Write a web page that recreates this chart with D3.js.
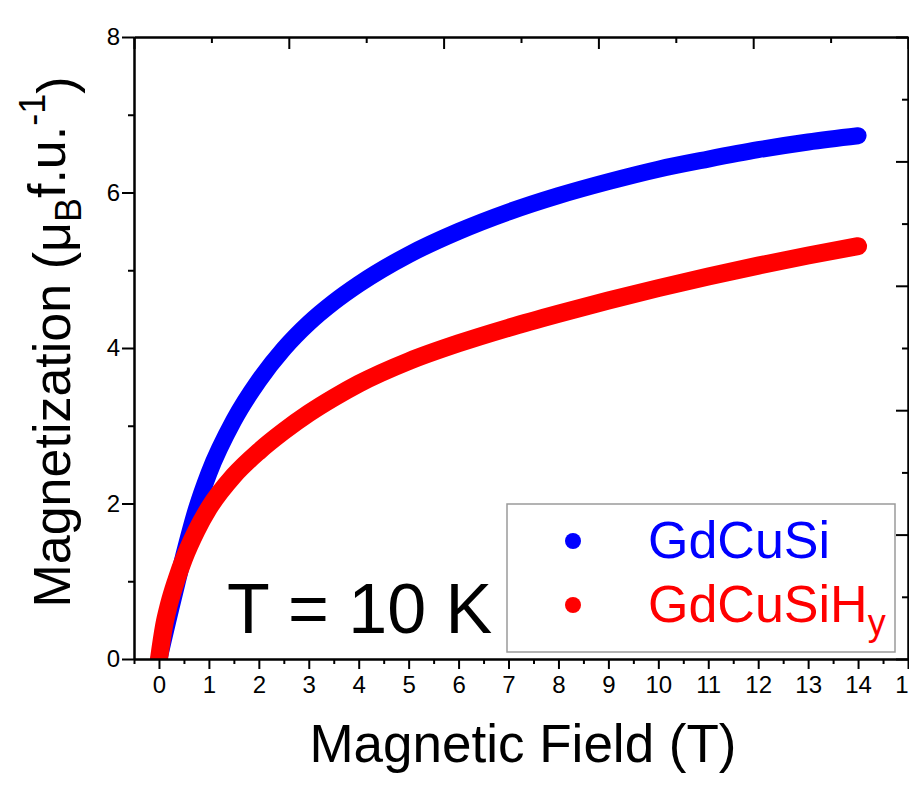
<!DOCTYPE html>
<html>
<head>
<meta charset="utf-8">
<script src="https://cdn.jsdelivr.net/npm/d3@7"></script>
<style>
  body { margin: 0; background: #fff; }
  text { font-family: "Liberation Sans", Arial, sans-serif; }
</style>
</head>
<body>
<div id="chart"></div>
<script>
// Data: field (T) and magnetization (muB/f.u.)
const field = [0, 0.1, 0.2, 0.35, 0.5, 0.75, 1, 1.5, 2, 2.5, 3, 3.5, 4, 5, 6, 7, 8, 9, 10, 11, 12, 13, 14];
const gdcusi = [0, 0.28, 0.55, 0.95, 1.34, 1.93, 2.39, 3.07, 3.58, 3.99, 4.32, 4.59, 4.82, 5.2, 5.5, 5.75, 5.96, 6.14, 6.3, 6.43, 6.55, 6.65, 6.73];
const gdcusih = [0, 0.42, 0.7, 1.02, 1.29, 1.65, 1.94, 2.36, 2.67, 2.93, 3.16, 3.36, 3.54, 3.83, 4.06, 4.26, 4.44, 4.61, 4.77, 4.92, 5.06, 5.19, 5.31];

const xMajor = d3.range(0, 16, 1);
const xMinor = d3.range(-0.5, 15, 1);
const yMajor = [0, 2, 4, 6, 8];
const yMinor = [1, 3, 5, 7];
// the top and right frame axes carry their own, unlabelled, 0..10 scale
const frameMajor = [0, 2, 4, 6, 8, 10];
const frameMinor = [1, 3, 5, 7, 9];

const WIDTH = 909;
const HEIGHT = 786;
const margin = { top: 37, right: 1, bottom: 127, left: 134 };
const width = WIDTH - margin.left - margin.right;
const height = HEIGHT - margin.top - margin.bottom;

const svg = d3
  .select("#chart")
  .append("svg")
  .attr("width", WIDTH)
  .attr("height", HEIGHT)
  .append("g")
  .attr("transform", `translate(${margin.left}, ${margin.top})`);

const x = d3.scaleLinear().domain([-0.5, 15]).range([0, width]);
const y = d3.scaleLinear().domain([0, 8]).range([height, 0]);
const xTop = d3.scaleLinear().domain([0, 10]).range([0, width]);
const yRight = d3.scaleLinear().domain([0, 10]).range([height, 0]);

svg
  .append("clipPath")
  .attr("id", "clip")
  .append("rect")
  .attr("width", width)
  .attr("height", height);

// curves (dense scatter drawn as a thick round line)
const series = [
  { values: gdcusi, color: "#0000ff", w: 17 },
  { values: gdcusih, color: "#ff0000", w: 18 }
];

const line = d3
  .line()
  .x(d => x(d[0]))
  .y(d => y(d[1]))
  .curve(d3.curveMonotoneX);

svg
  .append("g")
  .attr("clip-path", "url(#clip)")
  .selectAll("path")
  .data(series)
  .join("path")
  .attr("d", s => line(field.map((f, i) => [f, s.values[i]])))
  .attr("fill", "none")
  .attr("stroke", s => s.color)
  .attr("stroke-width", s => s.w)
  .attr("stroke-linecap", "round")
  .attr("stroke-linejoin", "round");

// axes
function style(g) {
  g.select(".domain").attr("stroke", "#000").attr("stroke-width", 2);
  g.selectAll(".tick line").attr("stroke", "#000").attr("stroke-width", 2);
  g.selectAll(".tick text").attr("fill", "#000").style("font-size", "24px");
}

svg
  .append("g")
  .attr("transform", `translate(0, ${height})`)
  .call(d3.axisBottom(x).tickValues(xMinor).tickSize(5).tickFormat("").tickSizeOuter(0))
  .call(style);

svg
  .append("g")
  .attr("transform", `translate(0, ${height})`)
  .call(d3.axisBottom(x).tickValues(xMajor).tickSize(10).tickPadding(7).tickSizeOuter(0))
  .call(style);

svg
  .append("g")
  .call(d3.axisLeft(y).tickValues(yMinor).tickSize(6).tickFormat("").tickSizeOuter(0))
  .call(style);

svg
  .append("g")
  .call(d3.axisLeft(y).tickValues(yMajor).tickSize(12).tickPadding(2).tickSizeOuter(0))
  .call(style);

// top frame, ticks pointing inwards
svg
  .append("g")
  .call(d3.axisBottom(xTop).tickValues(frameMinor).tickSize(6).tickFormat("").tickSizeOuter(0))
  .call(style);

svg
  .append("g")
  .call(d3.axisBottom(xTop).tickValues(frameMajor).tickSize(12).tickFormat("").tickSizeOuter(0))
  .call(style);

// right frame, ticks pointing inwards
svg
  .append("g")
  .attr("transform", `translate(${width}, 0)`)
  .call(d3.axisLeft(yRight).tickValues(frameMinor).tickSize(6).tickFormat("").tickSizeOuter(0))
  .call(style);

svg
  .append("g")
  .attr("transform", `translate(${width}, 0)`)
  .call(d3.axisLeft(yRight).tickValues(frameMajor).tickSize(12).tickFormat("").tickSizeOuter(0))
  .call(style);

// axis titles
svg
  .append("text")
  .attr("x", 523 - margin.left)
  .attr("y", 762 - margin.top)
  .attr("text-anchor", "middle")
  .style("font-size", "53px")
  .text("Magnetic Field (T)");

const yTitle = svg
  .append("text")
  .attr("transform", `translate(${70 - margin.left}, ${342 - margin.top}) rotate(-90)`)
  .attr("text-anchor", "middle")
  .style("font-size", "52px");
yTitle.append("tspan").text("Magnetization (\u03bc");
yTitle.append("tspan").attr("dy", "0.3em").style("font-size", "36px").text("B");
yTitle.append("tspan").attr("dy", "-0.3em").text("f.u.");
yTitle.append("tspan").attr("dy", "-0.55em").style("font-size", "36px").text("-1");
yTitle.append("tspan").attr("dy", "0.55em").text(")");

// temperature label
svg
  .append("text")
  .attr("x", 227 - margin.left)
  .attr("y", 633 - margin.top)
  .style("font-size", "70px")
  .text("T = 10 K");

// legend
const legend = svg
  .append("g")
  .attr("transform", `translate(${507 - margin.left}, ${504 - margin.top})`);

legend
  .append("rect")
  .attr("width", 388)
  .attr("height", 148)
  .attr("fill", "#fff")
  .attr("stroke", "#9a9a9a")
  .attr("stroke-width", 1.5);

const names = ["GdCuSi", "GdCuSiH"];
legend
  .selectAll("circle")
  .data(series)
  .join("circle")
  .attr("cx", 66)
  .attr("cy", (d, i) => 37 + i * 64)
  .attr("r", 8)
  .attr("fill", d => d.color);

legend
  .selectAll("text.name")
  .data(series)
  .join("text")
  .attr("class", "name")
  .attr("x", 141)
  .attr("y", (d, i) => 54 + i * 64)
  .attr("fill", d => d.color)
  .style("font-size", "52px")
  .each(function (d, i) {
    const t = d3.select(this);
    t.append("tspan").text(names[i]);
    if (i === 1) {
      t.append("tspan").attr("dy", "0.35em").style("font-size", "36px").text("y");
    }
  });
</script>
</body>
</html>
